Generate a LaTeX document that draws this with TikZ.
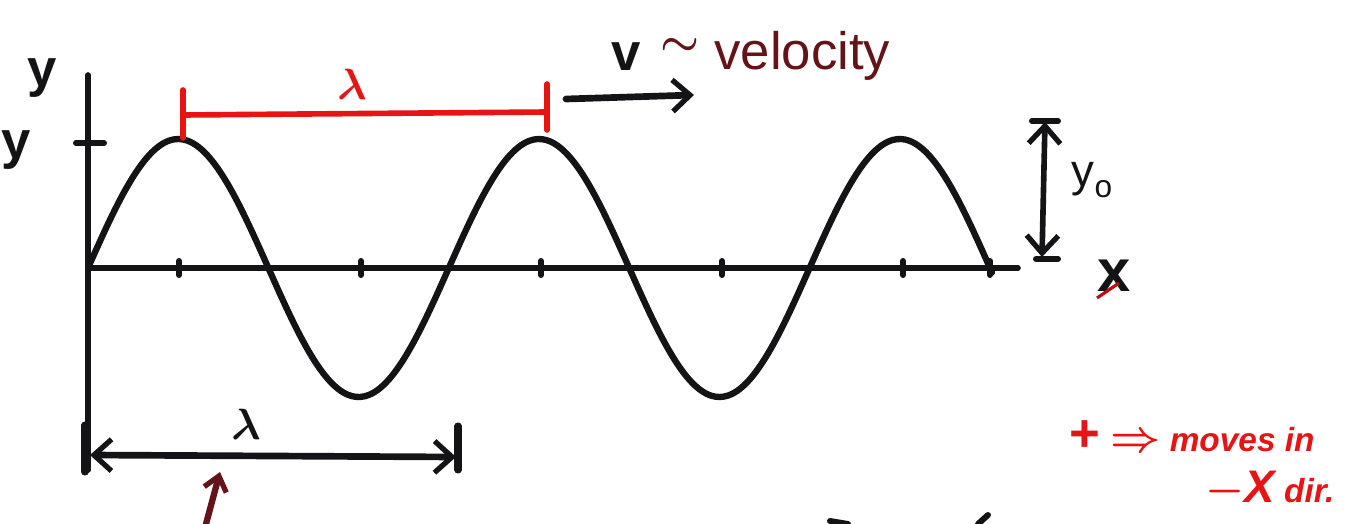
\documentclass[tikz,border=0pt]{standalone}
\usepackage{amsmath}
\usepackage{fontspec}
\setmainfont{Liberation Sans}
\usetikzlibrary{arrows.meta}
\definecolor{pen}{RGB}{20,20,22}
\definecolor{redpen}{RGB}{230,20,20}
\definecolor{brownpen}{RGB}{100,20,25}
\tikzset{
  ink/.style={draw=pen,line width=3.2pt,line cap=round,line join=round},
  redink/.style={draw=redpen,line width=3.2pt,line cap=round},
  tickmark/.style={draw=pen,line width=3.4pt,line cap=round},
  barb/.style={-{Straight Barb[length=10pt,width=18pt,line width=3pt]}},
  dbarb/.style={{Straight Barb[length=10pt,width=18pt,line width=3pt]}-{Straight Barb[length=10pt,width=18pt,line width=3pt]}},
  lbl/.style={inner sep=0pt,text=pen,font=\fontsize{30}{32}\selectfont\bfseries},
  brownlbl/.style={inner sep=0pt,text=brownpen,font=\fontsize{30}{32}\selectfont},
  redlbl/.style={inner sep=0pt,text=redpen,font=\fontsize{19}{20}\selectfont\bfseries\itshape},
}
\begin{document}
\begin{tikzpicture}[x=0.02cm,y=-0.02cm]
\useasboundingbox (0,0) rectangle (1367,524);
% axes
\coordinate (O) at (88,268);
\coordinate (ytop) at (88,75);
\coordinate (ybot) at (88,470);
\coordinate (xend) at (1018,268);
\draw[ink] (ytop) -- (ybot);
\draw[ink] (O) -- (xend);
% y tick
\coordinate (yt1) at (76,143);
\coordinate (yt2) at (104,143);
\draw[tickmark] (yt1) -- (yt2);
% x ticks
\foreach \t in {179,361,541,722,903,990}{
  \draw[tickmark] (\t,261) -- (\t,275);
}
% wave
\draw[ink,line width=3.6pt,smooth,samples=220,domain=88:992]
  plot (\x,{268-129*sin(((\x-88)/360.8)*360)});
% labels y
\node[lbl] (ylab) at (42,78) {y};
\node[lbl] (Ylab) at (16,150) {y};
% red lambda bracket
\coordinate (r1t) at (183,90);
\coordinate (r1b) at (183,138);
\coordinate (r2t) at (547,84);
\coordinate (r2b) at (547,130);
\coordinate (rl) at (183,115);
\coordinate (rr) at (547,112);
\draw[redink] (r1t) -- (r1b);
\draw[redink] (r2t) -- (r2b);
\draw[redink] (rl) -- (rr);
\node[inner sep=0pt,text=redpen,font=\fontsize{32}{34}\selectfont] (lamred) at (352,84) {$\boldsymbol{\lambda}$};
% velocity arrow
\coordinate (va) at (566,99);
\coordinate (vb) at (694,95);
\draw[ink,line width=3.8pt,barb] (va) -- (vb);
\node[lbl] (vlab) at (626,57) {v};
\node[brownlbl] (tilde) at (680,47) {$\boldsymbol{\sim}$};
\node[brownlbl,anchor=west] (vel) at (714,56) {velocity};
% y0 double arrow
\coordinate (ya) at (1045,122);
\coordinate (yb) at (1042,257);
\draw[ink,dbarb] (ya) -- (yb);
\draw[tickmark] (1032,121) -- (1058,121);
\draw[tickmark] (1036,259) -- (1058,259);
\node[lbl,font=\fontsize{26}{28}\selectfont] (y0) at (1092,180) {y\raisebox{-0.25em}{\fontsize{18}{20}\selectfont o}};
% x label
\node[lbl,font=\fontsize{34}{36}\selectfont\bfseries] (xlab) at (1114,276) {x};
\coordinate (xs1) at (1097,298);
\coordinate (xs2) at (1119,283);
\draw[draw=redpen!80!black,line width=1.8pt] (xs1) -- (xs2);
% bottom lambda double arrow
\coordinate (la) at (90,455);
\coordinate (lb) at (456,457);
\draw[ink,line width=3.8pt,dbarb] (la) -- (lb);
\draw[tickmark,line width=4pt] (85,425) -- (85,472);
\draw[tickmark,line width=4pt] (458,426) -- (458,470);
\node[inner sep=0pt,text=pen,font=\fontsize{32}{34}\selectfont] (lamblk) at (246,424) {$\boldsymbol{\lambda}$};
% brown pointer arrow
\coordinate (pa) at (206,524);
\coordinate (pb) at (220,472);
\draw[draw=brownpen,line width=3.6pt,line cap=round,-{Straight Barb[length=8pt,width=13pt,line width=3pt]}] (pa) -- (pb);
% fragment strokes at bottom edge
\draw[ink,line width=3.4pt] (830,521) -- (848,524);
\draw[ink,line width=3.4pt] (978,524) -- (988,515);
% red note
\node[redlbl,anchor=west] (note1) at (1068,436) {{\fontsize{30}{30}\selectfont +}\,\,{\fontsize{26}{26}\selectfont$\boldsymbol{\Rightarrow}$} moves in};
\node[redlbl,anchor=west] (note2) at (1205,490) {{\fontsize{26}{26}\selectfont $\boldsymbol{-}$X} dir.};
\end{tikzpicture}
\end{document}
